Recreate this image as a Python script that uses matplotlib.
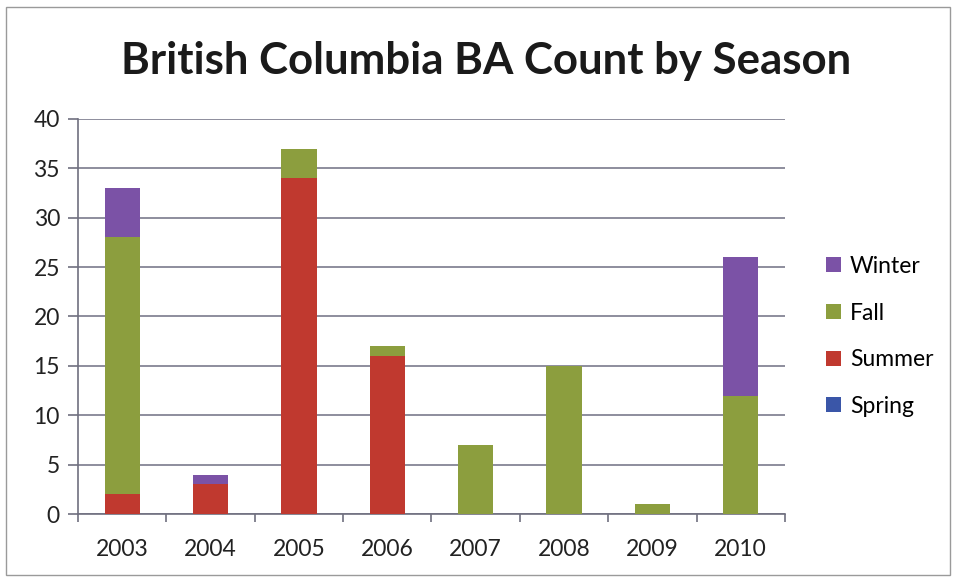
import matplotlib
matplotlib.use("Agg")
import matplotlib.pyplot as plt
from matplotlib.patches import Rectangle
import numpy as np

years = ["2003", "2004", "2005", "2006", "2007", "2008", "2009", "2010"]
spring = [0, 0, 0, 0, 0, 0, 0, 0]
summer = [2, 3, 34, 16, 0, 0, 0, 0]
fall = [26, 0, 3, 1, 7, 15, 1, 12]
winter = [5, 1, 0, 0, 0, 0, 0, 14]

series = [("Spring", spring, "#3A56A8"),
          ("Summer", summer, "#C0392F"),
          ("Fall", fall, "#8C9E3E"),
          ("Winter", winter, "#7B52A6")]

plt.rcParams["font.family"] = ["Lato", "DejaVu Sans"]

fig = plt.figure(figsize=(9.56, 5.77), dpi=100)
ax = fig.add_axes([0.0816, 0.109, 0.7394, 0.685])

x = np.arange(len(years))
bottom = np.zeros(len(years))
handles = []
for name, vals, color in series:
    h = ax.bar(x, vals, 0.4, bottom=bottom, color=color, label=name, zorder=3)
    handles.append(h)
    bottom += np.array(vals)

ax.set_xlim(-0.5, len(years) - 0.5)
ax.set_ylim(0, 40)
ax.set_yticks(range(0, 41, 5))
ax.set_xticks(x)
ax.set_xticklabels(years)
ax.set_xticks(np.arange(-0.5, len(years)), minor=True)
ax.tick_params(axis="x", which="major", length=0, pad=18, labelsize=16.5, labelcolor="#222222")
ax.tick_params(axis="x", which="minor", length=6, width=1.2, color="#6f6f7f")
ax.tick_params(axis="y", length=7, width=1.2, color="#6f6f7f", labelsize=16.5, labelcolor="#222222", pad=6)

ax.grid(axis="y", color="#7a7a8c", linewidth=1.2, zorder=0)
for s in ["top", "right"]:
    ax.spines[s].set_visible(False)
for s in ["left", "bottom"]:
    ax.spines[s].set_color("#6f6f7f")
    ax.spines[s].set_linewidth(1.2)

fig.text(0.508, 0.895, "British Columbia BA Count by Season", ha="center", va="center",
         fontsize=31.5, fontweight="bold", color="#1a1a1a")

leg = fig.legend(handles[::-1], [s[0] for s in series][::-1], loc="center left",
                 bbox_to_anchor=(0.864, 0.417), frameon=False, fontsize=16.5,
                 handlelength=0.65, handleheight=0.65, handletextpad=0.4, labelspacing=1.12,
                 borderpad=0, borderaxespad=0)

fig.patches.append(Rectangle((0.006, 0.003), 0.988, 0.985, transform=fig.transFigure,
                             fill=False, edgecolor="#9a9a9a", linewidth=1))

fig.savefig("out.png", dpi=100)
